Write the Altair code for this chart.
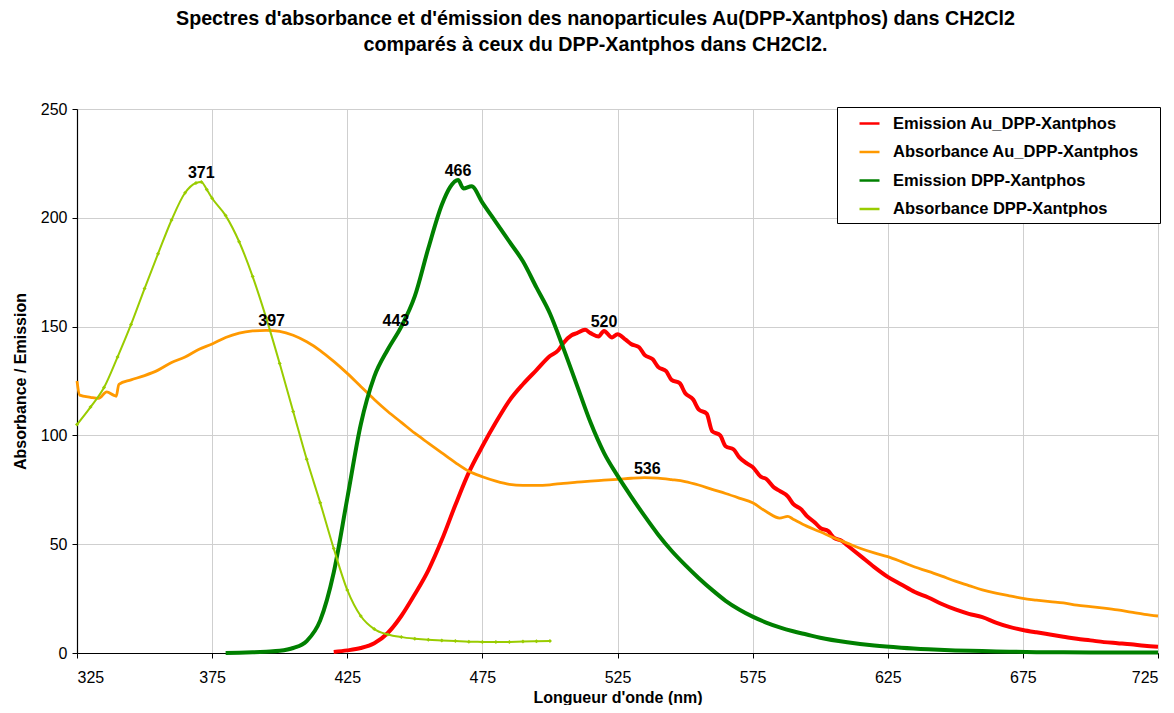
import altair as alt
import pandas as pd

# ---- Emission Au_DPP-Xantphos (red) ----
em_au_x = [420, 425, 430, 435, 440, 445, 450, 455, 460, 465, 470, 475, 480, 485, 490, 495,
           500, 503, 505, 508, 510, 513, 515, 518, 520, 523, 525, 528, 530, 533, 535, 538,
           540, 543, 545, 548, 550, 553, 555, 558, 560, 563, 565, 568, 570, 573, 575, 578,
           580, 583, 585, 588, 590, 593, 595, 598, 600, 603, 605, 608, 610, 615, 620, 625,
           630, 635, 640, 645, 650, 655, 660, 665, 670, 675, 680, 685, 690, 695, 700, 705,
           710, 715, 720, 725]
em_au_y = [0.5, 1.2, 2.3, 4.5, 9.2, 17, 27, 38, 52, 68, 83, 95, 106, 116, 123.5, 130,
           136.5, 139, 142.5, 146, 147, 148.5, 147, 145.5, 148, 145, 146.5, 144, 142, 140.5, 137, 135,
           131.5, 129.5, 125.5, 124, 119.5, 116.5, 112, 110, 102, 100, 95, 93.5, 90, 87, 85.5, 81,
           80, 76, 74.5, 72, 68.5, 66, 63, 60, 57.5, 56, 53, 51.5, 49.5, 44.5, 39.5, 35,
           31.5, 28, 25.5, 22.5, 20, 18, 16.5, 14, 12, 10.6, 9.5, 8.5, 7.5, 6.5, 5.8, 5,
           4.5, 4, 3.3, 2.9]

# ---- Absorbance Au_DPP-Xantphos (orange) ----
abs_au_x = [325, 326, 330, 333, 336, 338.5, 339.5, 340.5, 345, 350, 355, 360, 365, 370, 375,
            380, 385, 390, 395, 400, 405, 410, 415, 420, 425, 430, 435, 440, 445, 450, 455,
            460, 465, 470, 475, 480, 485, 490, 495, 500, 505, 510, 515, 520, 525, 530, 535,
            540, 545, 550, 555, 560, 565, 570, 575, 580, 585, 588, 590, 595, 600, 605, 610,
            615, 620, 625, 630, 635, 640, 645, 650, 655, 660, 665, 670, 675, 680, 685, 690,
            695, 700, 705, 710, 715, 720, 725]
abs_au_y = [125, 118.5, 117.5, 117, 120, 118.5, 118, 123.5, 125.5, 127.5, 130, 133.5, 136, 139.5, 142,
            145, 147, 148, 148.3, 147.8, 146, 143, 139, 134, 128.5, 122.5, 116.5, 111, 106, 101, 96.5,
            92, 87.5, 83.5, 81, 79, 77.5, 77, 77, 77.3, 78, 78.5, 79, 79.4, 79.8, 80.3, 80.6,
            80.4, 79.7, 78.8, 77.2, 75.2, 73.3, 71.2, 69, 65, 62, 62.8, 61.5, 58.3, 55.7, 53, 50.5,
            48, 46, 44.3, 42, 39.5, 37.5, 35.3, 33, 31, 29, 27.5, 26.3, 25.1, 24.3, 23.6, 23,
            22, 21.3, 20.6, 19.8, 18.8, 17.8, 17]

# ---- Emission DPP-Xantphos (dark green) ----
em_dpp_x = [380, 385, 390, 395, 400, 405, 410, 415, 420, 425, 430, 435, 440, 445, 450, 455,
            460, 463, 466, 468, 471, 475, 480, 485, 490, 495, 500, 505, 510, 515, 520, 525,
            530, 535, 540, 545, 550, 555, 560, 565, 570, 575, 580, 585, 590, 595, 600, 610,
            620, 630, 640, 650, 660, 670, 680, 690, 700, 725]
em_dpp_y = [0, 0.1, 0.3, 0.6, 1.0, 2.3, 5.5, 15, 37, 71, 105, 127, 139.5, 150, 164, 186,
            206, 214, 217.4, 213.5, 214.5, 207, 198, 189, 180, 168, 156, 140, 123, 106, 92, 81.5,
            72, 63, 54.5, 47, 40.5, 34.5, 29, 24, 20, 16.7, 14, 11.8, 10, 8.5, 7, 4.9,
            3.4, 2.4, 1.7, 1.2, 0.9, 0.6, 0.4, 0.3, 0.2, 0.2]

# ---- Absorbance DPP-Xantphos (light green) ----
abs_dpp_x = [325, 330, 335, 340, 345, 350, 355, 360, 365, 369, 371, 373, 375, 380, 385, 390,
             395, 400, 405, 410, 415, 420, 425, 430, 435, 440, 445, 450, 455, 460, 465, 470,
             475, 480, 485, 490, 495, 500]
abs_dpp_y = [105, 113, 122, 136, 151, 167.5, 183.5, 199, 211.5, 216, 216.5, 213, 209, 201, 189, 173,
             154, 133, 111, 89, 69, 48, 29, 17, 11, 8.5, 7.3, 6.6, 6.1, 5.8, 5.5, 5.2,
             5.1, 5.0, 5.1, 5.3, 5.4, 5.5]

# ---- Peak annotations ----
peak_x = [371, 397, 466, 443, 520, 536]
peak_y = [216.5, 148.3, 217.4, 148.5, 148.0, 80.6]
peak_text = ["371", "397", "466", "443", "520", "536"]

series_names = ["Emission Au_DPP-Xantphos", "Absorbance Au_DPP-Xantphos",
                "Emission DPP-Xantphos", "Absorbance DPP-Xantphos"]
series_colors = ["#FF0000", "#FF9900", "#008000", "#99CC00"]

x_ticks = [325, 375, 425, 475, 525, 575, 625, 675, 725]
y_ticks = [0, 50, 100, 150, 200, 250]

FONT = "Liberation Sans"

def frame(xs, ys, name):
    return pd.DataFrame({"wl": xs, "val": ys, "series": name})

df_em_au = frame(em_au_x, em_au_y, series_names[0])
df_abs_au = frame(abs_au_x, abs_au_y, series_names[1])
df_em_dpp = frame(em_dpp_x, em_dpp_y, series_names[2])
df_abs_dpp = frame(abs_dpp_x, abs_dpp_y, series_names[3])
df_peaks = pd.DataFrame({"wl": peak_x, "val": peak_y, "txt": peak_text})

x_enc = alt.X("wl:Q", scale=alt.Scale(domain=[325, 725], nice=False, zero=False),
              axis=alt.Axis(values=x_ticks, title="Longueur d'onde (nm)", titleY=44,
                            titleBaseline="middle"))
y_enc = alt.Y("val:Q", scale=alt.Scale(domain=[0, 250], nice=False),
              axis=alt.Axis(values=y_ticks, title="Absorbance / Emission", titleX=-57,
                            titleBaseline="middle"))
color_enc = alt.Color("series:N",
                      scale=alt.Scale(domain=series_names, range=series_colors),
                      sort=series_names,
                      legend=alt.Legend(title="M", titleOrient="right", titleOpacity=0,
                                        titleFontSize=10, titlePadding=7,
                                        orient="none", legendX=760, legendY=-2,
                                        symbolType="stroke", symbolStrokeWidth=2.5,
                                        symbolSize=400, labelFont=FONT, labelFontSize=16.5,
                                        labelFontWeight="bold", labelColor="black",
                                        labelLimit=500,
                                        strokeColor="black", fillColor="white",
                                        padding=5, rowPadding=8.5, symbolOffset=16,
                                        labelOffset=12))

def line_layer(df, width):
    return alt.Chart(df).mark_line(strokeWidth=width, strokeJoin="round",
                                   interpolate="monotone").encode(
        x=x_enc, y=y_enc, color=color_enc)

l_em_au = line_layer(df_em_au, 4)
l_abs_au = line_layer(df_abs_au, 2.8)
l_em_dpp = line_layer(df_em_dpp, 4)
l_abs_dpp = line_layer(df_abs_dpp, 2)
p_abs_dpp = alt.Chart(df_abs_dpp).mark_point(filled=True, shape="diamond", size=16, opacity=1).encode(
    x=x_enc, y=y_enc, color=alt.Color("series:N", scale=alt.Scale(domain=series_names, range=series_colors),
                                      legend=None))

labels = alt.Chart(df_peaks).mark_text(font=FONT, fontSize=16, fontWeight="bold", color="black",
                                       baseline="bottom", dy=-1).encode(
    x=alt.X("wl:Q"), y=alt.Y("val:Q"), text="txt:N")

chart = alt.layer(l_em_au, l_abs_au, l_em_dpp, l_abs_dpp, p_abs_dpp, labels).properties(
    width=1081, height=544,
    title=alt.Title(["Spectres d'absorbance et d'émission des nanoparticules Au(DPP-Xantphos) dans CH2Cl2",
                     "comparés à ceux du DPP-Xantphos dans CH2Cl2."],
                    font=FONT, fontSize=19.7, fontWeight="bold", color="black",
                    anchor="middle", lineHeight=26, offset=46, dx=-22),
    autosize=alt.AutoSizeParams(type="none"),
    padding={"left": 69, "top": 101, "right": 8, "bottom": 52},
).configure_view(stroke="#999999", strokeWidth=1).configure_axis(
    labelFont=FONT, labelFontSize=16, labelColor="black", titleFont=FONT, titleFontSize=16,
    titleFontWeight="bold", titleColor="black", domainColor="black", domainWidth=1.2,
    tickColor="black", tickSize=5, gridColor="#cfcfcf", gridWidth=1
).configure_axisX(labelPadding=11).configure_axisY(labelPadding=5)

chart.save("out.html", embed_options={"renderer": "svg", "actions": False})
